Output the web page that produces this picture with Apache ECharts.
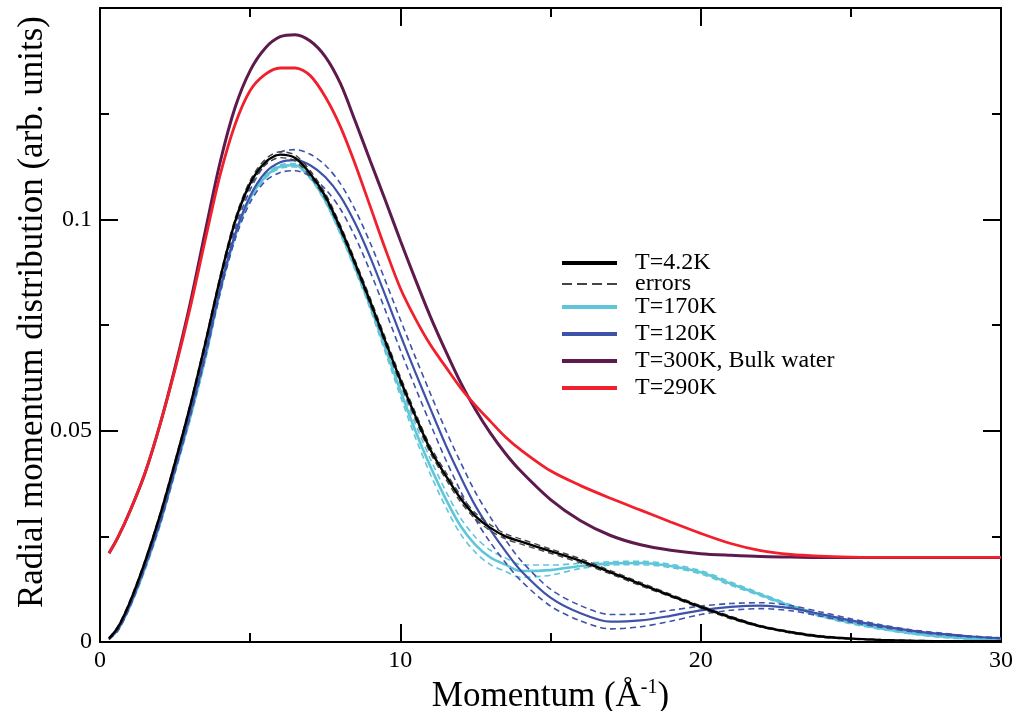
<!DOCTYPE html>
<html>
<head>
<meta charset="utf-8" />
<script src="https://cdn.jsdelivr.net/npm/echarts@6/dist/echarts.min.js"></script>
<title>Radial momentum distribution</title>
</head>
<body style="margin:0;background:#fff;">
<div id="main" style="width:1018px;height:711px;"></div>
<script type="text/javascript">
// momentum grid (1/A) shared by every curve
var momentum = [0.3, 0.6, 1, 1.5, 2, 2.5, 3, 3.5, 4, 4.5, 5, 5.5, 6, 6.5, 7, 7.5, 8, 8.5, 9, 9.5,
  10, 10.5, 11, 11.5, 12, 12.5, 13, 13.5, 14, 15, 16, 17, 18, 19, 20, 21, 22, 23, 24, 25, 26, 27, 28, 29, 30];

// T=4.2K
var t4K = [0.0008, 0.0035, 0.0095, 0.019, 0.030, 0.0425, 0.0558, 0.0705, 0.086, 0.0995,
  0.1085, 0.1135, 0.1153, 0.1145, 0.1108, 0.1055, 0.098, 0.0895, 0.0805, 0.0712,
  0.062, 0.0535, 0.0455, 0.0395, 0.034, 0.0298, 0.027, 0.025, 0.0238, 0.0215,
  0.0192, 0.0165, 0.0137, 0.011, 0.0083, 0.0058, 0.0037, 0.0023, 0.0013, 0.0008,
  0.0005, 0.0003, 0.0002, 0.0002, 0.0002];
var err4K = [0.0002, 0.0003, 0.0004, 0.0004, 0.0005, 0.0005, 0.0005, 0.0006, 0.0006, 0.0007,
  0.0007, 0.0007, 0.0007, 0.0007, 0.0007, 0.0007, 0.0007, 0.0007, 0.0008, 0.0008,
  0.0008, 0.0008, 0.0008, 0.0008, 0.0008, 0.0007, 0.0007, 0.0006, 0.0006, 0.0005,
  0.0005, 0.0004, 0.0004, 0.0003, 0.0003, 0.0003, 0.0002, 0.0002, 0.0002, 0.0001,
  0.0001, 0.0001, 0.0001, 0.0001, 0.0001];

// T=170K
var t170 = [0.0008, 0.003, 0.0085, 0.0175, 0.028, 0.0405, 0.053, 0.067, 0.083, 0.096,
  0.105, 0.110, 0.1125, 0.1128, 0.110, 0.1045, 0.097, 0.0885, 0.0795, 0.0695,
  0.0595, 0.050, 0.0415, 0.034, 0.0275, 0.023, 0.020, 0.0183, 0.0168, 0.0170,
  0.018, 0.0186, 0.0187, 0.018, 0.0165, 0.0138, 0.0112, 0.0085, 0.0063, 0.0046,
  0.0032, 0.0021, 0.0013, 0.0008, 0.0005];
var err170 = [0.0002, 0.0003, 0.0003, 0.0004, 0.0004, 0.0004, 0.0004, 0.0004, 0.0004, 0.0004,
  0.0004, 0.0004, 0.0004, 0.0004, 0.0004, 0.0004, 0.0005, 0.0006, 0.0008, 0.001,
  0.0013, 0.0016, 0.0018, 0.0019, 0.0019, 0.0018, 0.0017, 0.0016, 0.0015, 0.0012,
  0.0006, 0.0004, 0.0004, 0.0004, 0.0004, 0.0004, 0.0003, 0.0003, 0.0003, 0.0003,
  0.0002, 0.0002, 0.0002, 0.0002, 0.0002];

// T=120K
var t120 = [0.0008, 0.003, 0.0088, 0.018, 0.0285, 0.041, 0.054, 0.068, 0.0835, 0.0965,
  0.1055, 0.111, 0.1135, 0.114, 0.1128, 0.110, 0.1055, 0.099, 0.091, 0.082,
  0.0727, 0.0638, 0.0552, 0.0468, 0.0392, 0.0322, 0.0265, 0.0215, 0.017, 0.0105,
  0.0068, 0.0048, 0.0051, 0.0062, 0.0075, 0.0083, 0.0086, 0.008, 0.0066, 0.0051,
  0.0038, 0.0027, 0.0019, 0.0013, 0.0009];
var err120 = [0.0002, 0.0003, 0.0004, 0.0005, 0.0006, 0.0007, 0.0008, 0.0009, 0.001, 0.0012,
  0.0015, 0.002, 0.0024, 0.0025, 0.0026, 0.0028, 0.003, 0.0032, 0.0034, 0.0035,
  0.0036, 0.0036, 0.0036, 0.0035, 0.0034, 0.0032, 0.003, 0.0027, 0.0024, 0.002,
  0.0018, 0.0017, 0.0015, 0.0013, 0.001, 0.0008, 0.0007, 0.0006, 0.0005, 0.0004,
  0.0003, 0.0002, 0.0002, 0.0001, 0.0001];

// T=300K, bulk water
var t300 = [0.021, 0.0248, 0.031, 0.040, 0.0515, 0.065, 0.080, 0.097, 0.1135, 0.1265,
  0.1352, 0.1405, 0.1432, 0.1437, 0.1422, 0.1385, 0.1322, 0.1232, 0.1138, 0.1045,
  0.095, 0.0858, 0.077, 0.069, 0.0615, 0.055, 0.0494, 0.0446, 0.0405, 0.0337,
  0.0287, 0.0252, 0.023, 0.0217, 0.0209, 0.0205, 0.0202, 0.0201, 0.020, 0.020,
  0.020, 0.020, 0.020, 0.020, 0.020];

// T=290K
var t290 = [0.021, 0.0248, 0.031, 0.040, 0.0515, 0.0645, 0.079, 0.095, 0.1105, 0.1225,
  0.1305, 0.1343, 0.1358, 0.1358, 0.134, 0.129, 0.122, 0.113, 0.103, 0.093,
  0.0837, 0.0765, 0.0703, 0.0652, 0.0602, 0.056, 0.0522, 0.0485, 0.0455, 0.0405,
  0.037, 0.034, 0.0312, 0.0284, 0.0257, 0.0233, 0.0216, 0.0207, 0.0203, 0.0201,
  0.020, 0.020, 0.020, 0.020, 0.020];

var legendNames = ['T=4.2K', 'errors', 'T=170K', 'T=120K', 'T=300K, Bulk water', 'T=290K'];

var SERIF = '"Liberation Serif", "Times New Roman", serif';

function pairs(ys) {
  return momentum.map(function (x, i) { return [x, ys[i]]; });
}
function shifted(ys, err, sign) {
  return momentum.map(function (x, i) { return [x, ys[i] + sign * err[i]]; });
}
function curve(name, data, color, width, dashed, z) {
  return {
    type: 'line',
    name: name,
    data: data,
    symbol: 'none',
    showSymbol: false,
    smooth: 0.3,
    z: z,
    itemStyle: { color: color },
    lineStyle: { color: color, width: width, type: dashed ? [6, 4] : 'solid' }
  };
}

var chart = echarts.init(document.getElementById('main'));

// legend rows, one component each so the spacing follows the picture
var legendTops = [253, 273, 297, 324, 351, 378];
var dashIcon = 'path://M0,0h10v2h-10zM15,0h10v2h-10zM30,0h10v2h-10zM45,0h10v2h-10z';
var legends = legendNames.map(function (n, i) {
  var dashed = n === 'errors';
  return {
    data: [{ name: n, icon: dashed ? dashIcon : 'rect' }],
    left: 562,
    top: legendTops[i] - (dashed ? 1 : 2),
    padding: 0,
    itemWidth: 55,
    itemHeight: dashed ? 2 : 4,
    selectedMode: false,
    textStyle: { fontFamily: SERIF, fontSize: 24, color: '#000', padding: [0, 0, 0, 13] }
  };
});

var axisBase = {
  axisLine: { show: true, onZero: false, lineStyle: { color: '#000', width: 2 } },
  axisTick: { show: true, inside: true, length: 18, lineStyle: { color: '#000', width: 2 } },
  minorTick: { show: true, splitNumber: 2, length: 9, lineStyle: { color: '#000', width: 2 } },
  splitLine: { show: false },
  minorSplitLine: { show: false }
};

function axis(extra) {
  return Object.assign({}, JSON.parse(JSON.stringify(axisBase)), extra);
}

var option = {
  backgroundColor: '#fff',
  animation: false,
  grid: { left: 100, right: 17, top: 8, bottom: 69, containLabel: false, outerBoundsMode: 'none' },
  legend: legends,
  xAxis: [
    axis({
      type: 'value', min: 0, max: 30, interval: 10, position: 'bottom',
      axisLabel: { fontFamily: SERIF, fontSize: 24, color: '#000', margin: 7 },
      name: 'Momentum (Å{sup|-1})',
      nameLocation: 'middle',
      nameGap: 29,
      nameTextStyle: {
        fontFamily: SERIF, fontSize: 35, color: '#000',
        rich: { sup: { fontFamily: SERIF, fontSize: 20, color: '#000', padding: [0, 0, 17, 0] } }
      }
    }),
    axis({
      type: 'value', min: 0, max: 30, interval: 10, position: 'top',
      axisLabel: { show: false }
    })
  ],
  yAxis: [
    axis({
      type: 'value', min: 0, max: 0.15, interval: 0.05, position: 'left',
      axisLabel: {
        fontFamily: SERIF, fontSize: 24, color: '#000', margin: 8,
        formatter: function (v) { return v > 0.14 ? '' : String(+v.toFixed(2)); }
      },
      name: 'Radial momentum distribution (arb. units)',
      nameLocation: 'middle',
      nameGap: 50,
      nameMoveOverlap: false,
      nameTextStyle: { fontFamily: SERIF, fontSize: 35, color: '#000', padding: [0, 0, 0, 26] }
    }),
    axis({
      type: 'value', min: 0, max: 0.15, interval: 0.05, position: 'right',
      axisLabel: { show: false }
    })
  ],
  series: [
    curve('err170', shifted(t170, err170, 1), '#5fc6d9', 1.6, true, 2),
    curve('err170', shifted(t170, err170, -1), '#5fc6d9', 1.6, true, 2),
    curve('T=170K', pairs(t170), '#5fc6d9', 2.6, false, 3),
    curve('err120', shifted(t120, err120, 1), '#3d52a8', 1.6, true, 4),
    curve('err120', shifted(t120, err120, -1), '#3d52a8', 1.6, true, 4),
    curve('T=120K', pairs(t120), '#3d52a8', 2.2, false, 5),
    curve('errors', shifted(t4K, err4K, 1), '#444444', 1.4, true, 6),
    curve('errors', shifted(t4K, err4K, -1), '#444444', 1.4, true, 6),
    curve('T=4.2K', pairs(t4K), '#000000', 2.4, false, 7),
    curve('T=300K, Bulk water', pairs(t300), '#5e1a4c', 3, false, 8),
    curve('T=290K', pairs(t290), '#f0202c', 2.8, false, 9)
  ]
};

chart.setOption(option);
</script>
</body>
</html>
